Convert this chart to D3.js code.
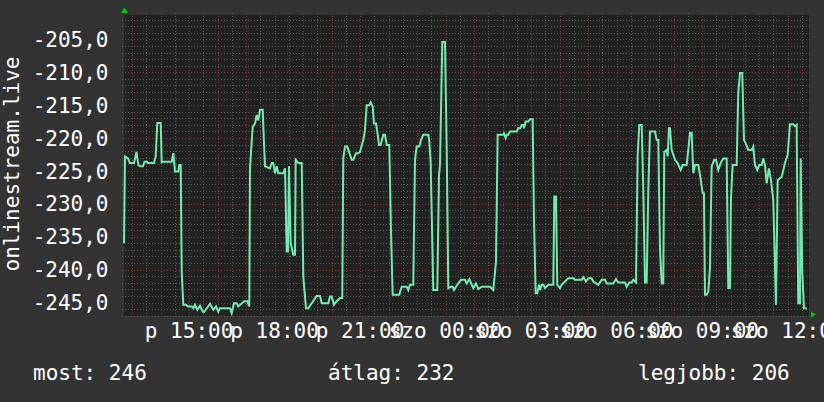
<!DOCTYPE html>
<html><head><meta charset="utf-8">
<script src="https://cdn.jsdelivr.net/npm/d3@7"></script>
<style>html,body{margin:0;padding:0;background:#333333;}svg{display:block;}</style>
</head><body>
<script>
// ---- data ----
// window start: Friday 12:43; sample times in minutes from window start
const windowStart = new Date(2024, 0, 5, 12, 43); // a Friday
const windowMinutes = 1442;
const dayAbbr = ["v", "h", "k", "sze", "cs", "p", "szo"];
const seriesName = "onlinestream.live";
const minutes = [0,2.1,8.4,12.6,21.1,26.3,30.1,33.7,40.0,43.2,48.4,50.5,63.2,66.7,70.1,77.3,79.4,82.1,100.4,103.8,107.4,114.3,116.4,119.4,121.5,124.8,130.5,134.7,143.1,145.9,149.5,154.3,160.0,165.7,169.0,181.0,188.0,193.7,198.5,202.1,223.1,226.7,231.6,237.2,240.6,253.2,259.5,263.8,265.2,270.9,275.8,279.3,282.7,286.3,292.0,294.7,296.8,307.3,310.9,314.3,317.9,321.4,324.8,335.3,338.9,342.5,345.2,347.3,350.9,356.4,360.0,361.4,366.9,374.1,377.4,383.1,388.0,395.1,400.0,405.6,412.6,416.2,430.1,433.6,437.2,442.1,447.7,454.7,459.5,461.6,465.2,470.0,479.3,482.7,488.4,493.2,496.8,503.7,507.3,510.9,516.4,519.3,523.5,526.3,530.5,533.2,536.8,540.3,545.8,549.4,553.0,558.5,562.0,565.6,579.5,584.6,595.1,598.5,602.0,609.0,612.6,616.1,621.6,625.2,630.0,640.6,642.7,645.6,651.1,659.5,663.1,665.2,670.0,675.7,679.3,682.7,688.3,691.9,694.7,698.9,703.7,709.4,717.8,721.4,726.9,735.3,741.0,745.8,753.0,770.4,777.4,783.1,786.6,798.4,799.9,803.5,805.6,809.0,812.5,826.6,830.0,834.2,837.2,840.5,842.0,845.6,851.1,854.6,860.3,863.1,866.6,870.0,873.6,875.7,879.3,882.6,886.2,893.2,903.7,905.8,909.4,912.1,917.8,921.4,928.3,935.3,945.8,949.4,963.5,966.8,972.5,977.4,984.5,987.9,998.4,1005.6,1012.5,1016.1,1030.0,1035.7,1040.5,1054.6,1058.2,1063.7,1068.7,1072.1,1077.8,1081.3,1084.7,1089.8,1093.1,1096.7,1100.3,1103.7,1107.2,1117.8,1121.3,1124.7,1128.3,1131.9,1135.2,1137.3,1142.4,1144.5,1147.2,1149.3,1152.9,1159.9,1165.5,1171.9,1176.1,1184.5,1187.9,1191.4,1195.0,1198.4,1202.0,1208.9,1212.5,1218.2,1220.9,1223.0,1226.6,1230.0,1233.5,1237.1,1242.6,1246.2,1251.0,1256.1,1261.5,1268.7,1272.1,1275.6,1277.7,1281.3,1289.7,1293.1,1296.7,1301.5,1305.1,1308.7,1314.2,1321.3,1324.7,1328.3,1333.1,1337.3,1342.4,1345.7,1349.3,1352.9,1357.7,1361.9,1366.8,1372.5,1376.0,1384.5,1391.4,1397.1,1401.9,1408.9,1412.5,1416.0,1419.4,1423.0,1424.5,1427.8,1431.4,1437.1];
const values = [-236.0,-222.8,-223.1,-223.8,-223.8,-222.1,-224.1,-224.3,-224.3,-223.6,-223.6,-223.8,-223.8,-222.8,-217.7,-217.7,-223.7,-223.6,-223.6,-222.3,-225.1,-225.1,-224.1,-224.1,-240.3,-245.35,-245.35,-245.6,-245.6,-245.85,-245.35,-246.1,-245.5,-246.4,-246.4,-245.2,-246.1,-245.6,-246.4,-245.85,-245.85,-246.6,-245.1,-245.1,-245.6,-244.8,-244.8,-245.6,-224.6,-218.3,-217.8,-216.5,-217.3,-215.7,-215.7,-220.8,-224.3,-224.6,-223.8,-223.8,-225.35,-224.3,-225.35,-225.35,-224.6,-237.25,-237.25,-224.3,-236.0,-237.75,-237.75,-223.3,-223.8,-223.8,-241.05,-245.85,-245.85,-245.1,-244.6,-244.0,-244.0,-245.1,-245.1,-244.1,-244.1,-245.35,-244.8,-244.3,-244.3,-223.1,-221.3,-221.3,-223.3,-223.3,-222.3,-222.3,-222.1,-220.3,-218.8,-215.0,-215.0,-214.6,-215.2,-217.8,-217.8,-219.0,-221.05,-221.05,-219.5,-219.5,-221.05,-221.05,-233.96,-243.8,-243.8,-242.6,-242.6,-243.1,-242.3,-242.3,-223.3,-221.3,-221.3,-220.3,-219.5,-219.5,-220.5,-223.8,-243.1,-243.1,-225.6,-224.1,-205.4,-205.4,-221.5,-242.8,-242.6,-242.6,-243.1,-242.6,-242.1,-241.55,-241.55,-242.1,-241.45,-242.8,-242.1,-242.95,-242.6,-242.6,-243.1,-238.8,-219.5,-219.5,-219.3,-220.0,-219.5,-219.5,-219.0,-219.0,-218.5,-218.5,-218.0,-218.0,-218.5,-217.5,-217.5,-217.15,-217.15,-232.4,-243.6,-243.6,-242.3,-243.1,-242.3,-242.3,-242.8,-242.3,-242.3,-228.9,-228.9,-242.3,-242.8,-242.3,-241.8,-241.3,-241.3,-241.55,-241.55,-241.15,-241.8,-241.3,-241.3,-241.8,-242.3,-241.55,-241.55,-242.1,-242.1,-241.45,-241.95,-241.95,-242.6,-241.95,-241.95,-241.55,-241.95,-222.8,-218.0,-218.0,-227.6,-241.95,-241.95,-228.1,-219.0,-219.0,-220.3,-220.3,-236.75,-242.1,-242.1,-222.1,-221.8,-222.8,-218.5,-218.5,-221.8,-223.3,-223.8,-224.85,-224.1,-224.1,-221.8,-219.2,-219.2,-225.35,-224.1,-224.1,-225.6,-228.4,-228.4,-243.8,-243.8,-243.3,-239.8,-224.3,-223.3,-223.3,-224.85,-223.8,-223.1,-223.1,-242.8,-242.8,-229.15,-224.1,-224.1,-213.2,-210.1,-210.1,-220.3,-220.8,-221.8,-221.8,-221.3,-224.1,-224.85,-224.1,-224.1,-223.1,-224.1,-226.9,-224.6,-226.4,-229.4,-245.35,-226.4,-225.9,-223.8,-222.6,-217.9,-217.9,-218.2,-218.0,-245.1,-245.1,-223.1,-240.3,-245.85,-245.85];
const yDomain = [-247, -201.3];
const yLabelValues = [-245, -240, -235, -230, -225, -220, -215, -210, -205];
const legendLabels = ["most: 246", "átlag: 232", "legjobb: 206"];

// ---- drawing ----
const W = 824, H = 402;
const L = 124, R = 809, T = 15, B = 315.7;
const FONT = "'DejaVu Sans Mono', monospace";
const FS = "21px";
const svg = d3.select("body").append("svg").attr("width", W).attr("height", H);
svg.append("rect").attr("width", W).attr("height", H).attr("fill", "#333333");
svg.append("rect").attr("x", L).attr("y", T).attr("width", R - L).attr("height", B - T).attr("fill", "#222222");

const t0 = windowStart;
const t1 = d3.timeMinute.offset(windowStart, windowMinutes);
const x = d3.scaleTime().domain([t0, t1]).range([L, R]);
const y = d3.scaleLinear().domain(yDomain).range([B, T]);

const data = minutes.map((m, i) => ({t: new Date(+windowStart + m * 60000), v: values[i]}));

// grid
const g = svg.append("g").attr("shape-rendering", "crispEdges");
const minorY = d3.range(Math.ceil(yDomain[0]), Math.floor(yDomain[1]) + 1).filter(v => v % 5 !== 0);
g.selectAll(".hmin").data(minorY).join("line")
  .attr("x1", L - 2).attr("x2", R + 2).attr("y1", d => Math.round(y(d)) + 0.5).attr("y2", d => Math.round(y(d)) + 0.5)
  .attr("stroke", "#555555").attr("stroke-dasharray", "1,2");
const minorX = d3.timeMinute.every(30).range(t0, t1).filter(d => d.getMinutes() !== 0);
g.selectAll(".vmin").data(minorX).join("line")
  .attr("y1", T - 2).attr("y2", B + 2).attr("x1", d => Math.round(x(d)) + 0.5).attr("x2", d => Math.round(x(d)) + 0.5)
  .attr("stroke", "#555555").attr("stroke-dasharray", "1,2");
g.selectAll(".hmaj").data(yLabelValues).join("line")
  .attr("x1", L - 2).attr("x2", R + 2).attr("y1", d => Math.round(y(d)) + 0.5).attr("y2", d => Math.round(y(d)) + 0.5)
  .attr("stroke", "#7a3434").attr("stroke-dasharray", "1,2");
const majorX = d3.timeHour.every(1).range(t0, t1);
g.selectAll(".vmaj").data(majorX).join("line")
  .attr("y1", T - 2).attr("y2", B + 2).attr("x1", d => Math.round(x(d)) + 0.5).attr("x2", d => Math.round(x(d)) + 0.5)
  .attr("stroke", "#7a3434").attr("stroke-dasharray", "1,2");

// line
const line = d3.line().x(d => x(d.t)).y(d => y(d.v));
svg.append("path").datum(data).attr("d", line).attr("fill", "none")
  .attr("stroke", "#74eab0").attr("stroke-width", 2).attr("stroke-linejoin", "miter");

// y labels
const fmtY = v => d3.format(".1f")(v).replace("−", "-").replace(".", ",");
svg.selectAll(".ylab").data(yLabelValues).join("text")
  .attr("x", 108.5).attr("y", d => y(d)).attr("dy", "0.36em")
  .attr("text-anchor", "end").attr("fill", "#ffffff")
  .style("font-family", FONT).style("font-size", FS)
  .text(fmtY);

// x labels
const labelX = d3.timeHour.every(3).range(t0, t1);
const fmtX = d => dayAbbr[d.getDay()] + " " + d3.timeFormat("%H:%M")(d);
svg.selectAll(".xlab").data(labelX).join("text")
  .attr("x", d => x(d)).attr("y", 338).attr("text-anchor", "middle").attr("fill", "#ffffff")
  .style("font-family", FONT).style("font-size", FS)
  .text(fmtX);

// y title
svg.append("text").attr("transform", "translate(19,164) rotate(-90)")
  .attr("text-anchor", "middle").attr("fill", "#ffffff")
  .style("font-family", FONT).style("font-size", FS).text(seriesName);

// legend
const legendX = [33, 328, 638];
svg.selectAll(".leg").data(legendLabels).join("text")
  .attr("x", (d, i) => legendX[i]).attr("y", 380).attr("fill", "#ffffff")
  .style("font-family", FONT).style("font-size", FS).text(d => d);

// arrows
svg.append("path").attr("d", `M${L - 3},13 L${L + 0.5},7.5 L${L + 4},13 Z`).attr("fill", "#00cc00");
svg.append("path").attr("d", `M${R + 2},311.5 L${R + 7},314.5 L${R + 2},317.5 Z`).attr("fill", "#00cc00");
</script>
</body></html>
